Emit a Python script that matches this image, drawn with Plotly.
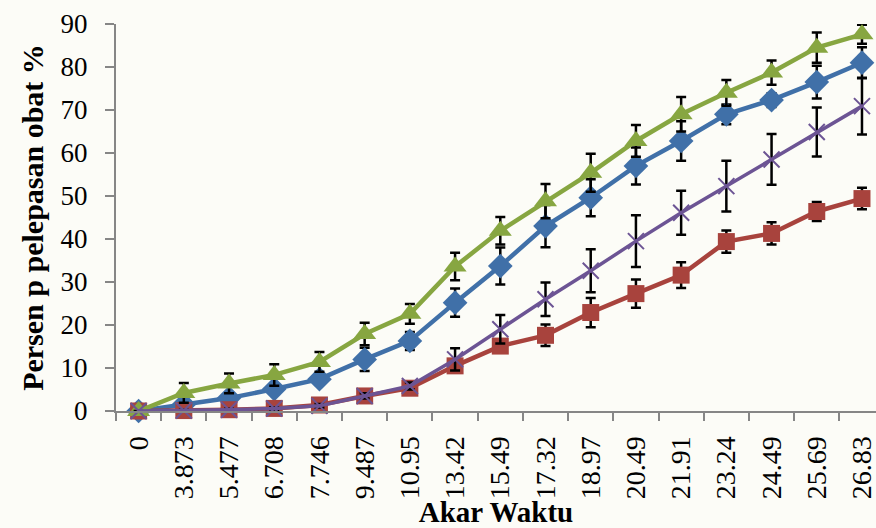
import plotly.graph_objects as go

# Square root of time (category labels on the x axis)
akar_waktu = ["0", "3.873", "5.477", "6.708", "7.746", "9.487", "10.95", "13.42",
              "15.49", "17.32", "18.97", "20.49", "21.91", "23.24", "24.49",
              "25.69", "26.83"]

# Cumulative drug release (%) and standard deviations for each formula
biru = [0, 1.5, 3.0, 5.1, 7.4, 12.0, 16.3, 25.2, 33.7, 43.0, 49.6, 57.0, 62.8,
        69.0, 72.3, 76.5, 81.0]
biru_sd = [0, 0.5, 0.8, 1.0, 1.2, 2.7, 2.1, 3.3, 4.3, 4.9, 4.3, 4.3, 4.6,
           2.3, 1.6, 3.8, 3.6]

merah = [0, 0.1, 0.3, 0.6, 1.4, 3.5, 5.3, 10.5, 15.1, 17.6, 22.9, 27.3, 31.6,
         39.4, 41.3, 46.4, 49.4]
merah_sd = [0, 0.2, 0.2, 0.3, 0.4, 0.6, 0.8, 1.2, 1.5, 2.5, 3.4, 3.3, 3.0,
            2.6, 2.6, 2.2, 2.5]

hijau = [0, 4.2, 6.4, 8.4, 11.4, 17.9, 22.6, 33.6, 41.9, 48.8, 55.4, 62.8, 69.0,
         74.0, 78.7, 84.5, 87.6]
hijau_sd = [0, 2.3, 2.3, 2.5, 2.3, 2.6, 2.3, 3.2, 3.2, 4.0, 4.4, 3.7, 4.0,
            3.0, 2.8, 3.5, 2.2]

ungu = [0, 0.1, 0.3, 0.6, 1.2, 3.5, 5.8, 12.0, 19.0, 26.0, 32.6, 39.5, 46.1,
        52.3, 58.5, 64.9, 70.9]
ungu_sd = [0, 0.2, 0.2, 0.3, 0.4, 0.6, 0.8, 2.6, 3.3, 3.9, 5.0, 6.0, 5.1,
           5.9, 5.9, 5.7, 6.6]

y_ticks = [0, 10, 20, 30, 40, 50, 60, 70, 80, 90]

SERIF = "Liberation Serif, Times New Roman, serif"

series = [
    (biru, biru_sd, "#4070A8", dict(symbol="diamond", size=19), 4.5),
    (merah, merah_sd, "#A8433D", dict(symbol="square", size=17), 4.5),
    (hijau, hijau_sd, "#87A641", dict(symbol="triangle-up", size=20), 4.5),
    (ungu, ungu_sd, "#6C5494", dict(symbol="x-thin-open", size=16,
                                   line=dict(width=2, color="#6C5494")), 3.5),
]

fig = go.Figure()
for vals, sd, color, marker, lw in series:
    fig.add_trace(go.Scatter(
        x=akar_waktu, y=vals, mode="lines+markers",
        line=dict(color=color, width=lw),
        marker=dict(color=color, **marker),
        error_y=dict(type="data", array=sd, visible=True,
                     color="black", thickness=2.5, width=5),
        cliponaxis=False, showlegend=False,
    ))

fig.update_layout(
    width=876, height=528,
    margin=dict(l=116, r=0, t=24, b=117),
    paper_bgcolor="#fcfcf7", plot_bgcolor="#fcfcf7",
    font=dict(family=SERIF, color="black"),
    xaxis=dict(
        type="category", range=[-0.5, 16.31],
        tickangle=-90, tickson="boundaries",
        ticks="outside", ticklen=8, tickcolor="#868686", tickwidth=1.5,
        showline=True, linecolor="#868686", linewidth=2,
        showgrid=False, zeroline=False,
        tickfont=dict(size=28, family=SERIF),
        ticklabelstandoff=12,
        title=dict(text="<b>Akar Waktu</b>", font=dict(size=29, family=SERIF),
                   standoff=0),
    ),
    yaxis=dict(
        range=[0, 90], tickvals=y_ticks,
        ticks="outside", ticklen=9, tickcolor="#868686", tickwidth=1.5,
        showline=True, linecolor="#868686", linewidth=2,
        showgrid=False, zeroline=False,
        tickfont=dict(size=27, family=SERIF),
        ticklabelstandoff=12,
        title=dict(text="<b>Persen p pelepasan obat %</b>",
                   font=dict(size=30, family=SERIF), standoff=8),
    ),
)

fig.write_html("out.html")
